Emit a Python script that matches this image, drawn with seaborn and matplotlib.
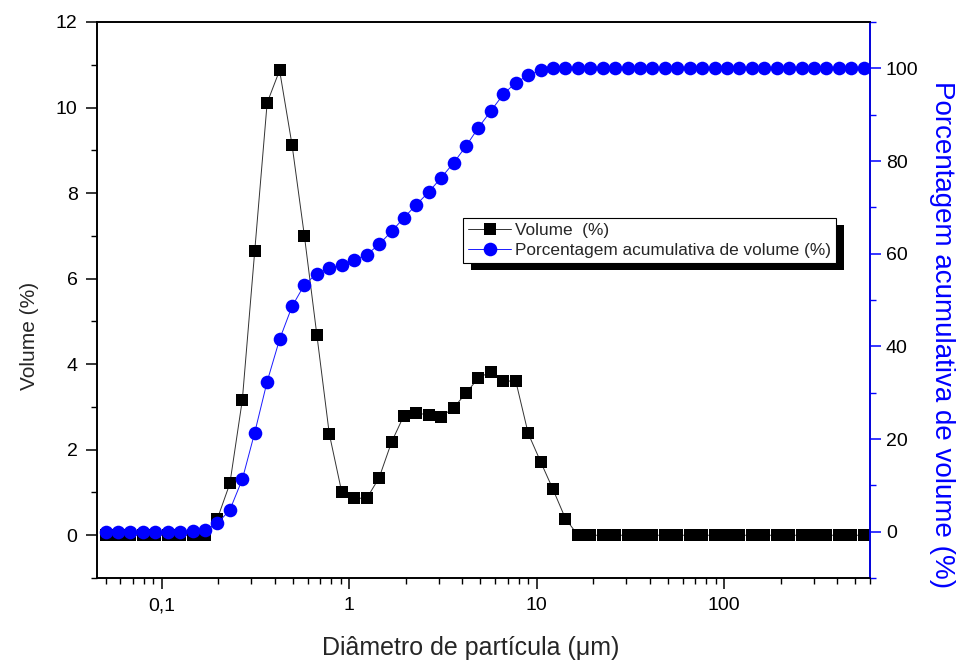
import matplotlib
matplotlib.use("Agg")
import matplotlib.pyplot as plt
import matplotlib.transforms as mtransforms
from matplotlib.patches import Rectangle
from matplotlib.ticker import LogLocator, NullFormatter, MultipleLocator, FixedLocator, FixedFormatter
import pandas as pd
import seaborn as sns

# ---- data (particle size classes, µm) ----
diametro_um = [0.05, 0.0582, 0.0679, 0.0791, 0.0921, 0.1073, 0.1250, 0.1456, 0.1697, 0.1977,
               0.2303, 0.2683, 0.3126, 0.3641, 0.4242, 0.4942, 0.5757, 0.6707, 0.7813, 0.9103,
               1.06, 1.24, 1.44, 1.68, 1.95, 2.28, 2.65, 3.09, 3.60, 4.19,
               4.88, 5.69, 6.63, 7.72, 9.00, 10.48, 12.21, 14.22, 16.57, 19.31,
               22.49, 26.20, 30.53, 35.56, 41.43, 48.27, 56.23, 65.51, 76.32, 88.91,
               103.58, 120.67, 140.58, 163.77, 190.80, 222.28, 258.95, 301.68, 351.46, 409.45,
               477.01, 555.71]
volume_pct = [0, 0, 0, 0, 0, 0, 0, 0, 0, 0.39,
              1.21, 3.16, 6.65, 10.11, 10.87, 9.13, 6.99, 4.68, 2.37, 1.01,
              0.86, 0.87, 1.34, 2.18, 2.79, 2.86, 2.81, 2.77, 2.98, 3.32,
              3.68, 3.82, 3.60, 3.61, 2.38, 1.72, 1.07, 0.39, 0, 0,
              0, 0, 0, 0, 0, 0, 0, 0, 0, 0,
              0, 0, 0, 0, 0, 0, 0, 0, 0, 0,
              0, 0]
acumulado_pct = [0, 0, 0, 0, 0, 0, 0, 0.1, 0.4, 1.8,
                 4.7, 11.3, 21.4, 32.4, 41.5, 48.6, 53.3, 55.7, 56.8, 57.6,
                 58.6, 59.8, 62.0, 64.8, 67.7, 70.6, 73.3, 76.4, 79.6, 83.2,
                 87.2, 90.8, 94.4, 96.9, 98.5, 99.6, 100, 100, 100, 100,
                 100, 100, 100, 100, 100, 100, 100, 100, 100, 100,
                 100, 100, 100, 100, 100, 100, 100, 100, 100, 100,
                 100, 100]

x_ticks = [0.1, 1, 10, 100]
x_tick_labels = ["0,1", "1", "10", "100"]
y_left_ticks = [0, 2, 4, 6, 8, 10, 12]
y_right_ticks = [0, 20, 40, 60, 80, 100]

label_vol = "Volume  (%)"
label_acc = "Porcentagem acumulativa de volume (%)"

# ---- style ----
sns.set_style("ticks")
plt.rcParams["font.family"] = ["Liberation Sans", "DejaVu Sans"]

df = pd.DataFrame({"d": diametro_um, "v": volume_pct, "c": acumulado_pct})

fig = plt.figure(figsize=(9.67, 6.67), dpi=100)
ax = fig.add_axes([97 / 967, 1 - 578 / 667, 773 / 967, 556 / 667])
ax2 = ax.twinx()

sns.lineplot(data=df, x="d", y="v", ax=ax, color="#333333", linewidth=0.7,
             marker="s", markersize=8.8, markerfacecolor="black",
             markeredgecolor="black", markeredgewidth=0,
             estimator=None, sort=False, label=label_vol, legend=False)
sns.lineplot(data=df, x="d", y="c", ax=ax2, color="#1a1aff", linewidth=0.7,
             marker="o", markersize=9.8, markerfacecolor="#0000ff",
             markeredgecolor="#0000ff", markeredgewidth=0,
             estimator=None, sort=False, label=label_acc, legend=False)

ax.set_xscale("log")
ax.set_xlim(0.045, 600)
ax.set_ylim(-1, 12)
ax2.set_ylim(-10, 110)

ax.xaxis.set_major_locator(FixedLocator(x_ticks))
ax.xaxis.set_major_formatter(FixedFormatter(x_tick_labels))
ax.xaxis.set_minor_locator(LogLocator(base=10, subs=[2, 3, 4, 5, 6, 7, 8, 9], numticks=20))
ax.xaxis.set_minor_formatter(NullFormatter())
ax.set_yticks(y_left_ticks)
ax.yaxis.set_minor_locator(MultipleLocator(1))
ax2.set_yticks(y_right_ticks)
ax2.yaxis.set_minor_locator(MultipleLocator(10))

for a in (ax, ax2):
    for s in a.spines.values():
        s.set_linewidth(1.2)
        s.set_color("black")
ax2.spines["right"].set_color("#0000ff")

ax.tick_params(axis="both", which="major", direction="out", length=8, width=1.1,
               labelsize=14, colors="black", top=False, pad=6)
ax.tick_params(axis="both", which="minor", direction="out", length=4.5, width=1.0,
               colors="black", top=False)
ax2.tick_params(axis="y", which="major", direction="out", length=8, width=1.1,
                labelsize=14, colors="#0000ff", labelcolor="black")
ax2.tick_params(axis="y", which="minor", direction="out", length=4.5, width=1.0,
                colors="#0000ff")

ax.set_xlabel("Diâmetro de partícula (μm)", fontsize=18)
ax.set_ylabel("Volume (%)", fontsize=15)
ax2.set_ylabel(label_acc, fontsize=20, color="#0000ff", rotation=270)
ax.xaxis.set_label_coords(0.484, -0.126)
ax.xaxis.label.set_va("center")
ax.yaxis.set_label_coords(-0.087, 0.435)
ax.yaxis.label.set_va("center")
ax2.yaxis.set_label_coords(1.093, 0.437)
ax2.yaxis.label.set_va("center")

handles = [ax.get_lines()[0], ax2.get_lines()[0]]
leg = ax2.legend(handles, [label_vol, label_acc], loc="upper left",
                 bbox_to_anchor=((463 - 97) / 773, (578 - 218) / 556),
                 borderaxespad=0, frameon=True, fancybox=False, framealpha=1,
                 edgecolor="black", fontsize=12.4, handlelength=2.5,
                 handletextpad=0.2, borderpad=0.3, labelspacing=0.25)
leg.get_frame().set_linewidth(0.8)
leg.set_zorder(10)

fig.canvas.draw()
bb = leg.get_window_extent()
shadow = Rectangle((bb.x0 + 8, bb.y0 - 7), bb.width, bb.height,
                   transform=mtransforms.IdentityTransform(),
                   facecolor="black", edgecolor="none", zorder=9, clip_on=False)
ax2.add_artist(shadow)

fig.savefig("out.png", dpi=100, facecolor="white")
